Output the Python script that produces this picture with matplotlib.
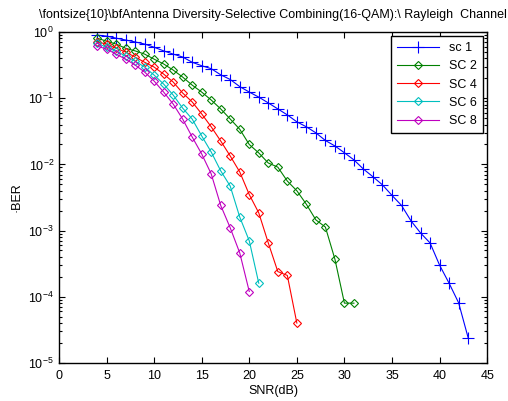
import matplotlib
matplotlib.use('Agg')
import matplotlib.pyplot as plt
from matplotlib.ticker import LogLocator, NullFormatter, MultipleLocator

plt.rcParams['font.family'] = ['Liberation Sans', 'DejaVu Sans']
plt.rcParams['mathtext.default'] = 'regular'

# SNR (dB) grids for each curve
snr_sc1 = list(range(4, 44))
snr_sc2 = list(range(4, 32))
snr_sc4 = list(range(4, 26))
snr_sc6 = list(range(4, 22))
snr_sc8 = list(range(4, 21))

# BER values
ber_sc1 = [0.90, 0.87, 0.81, 0.76, 0.71, 0.66, 0.59, 0.52, 0.465, 0.42,
           0.35, 0.31, 0.28, 0.226, 0.192, 0.150, 0.124, 0.104, 0.085, 0.069,
           0.056, 0.044, 0.037, 0.030, 0.023, 0.019, 0.015, 0.0117, 0.0085, 0.0065,
           0.0049, 0.0034, 0.0024, 0.0014, 0.00092, 0.00065, 0.00030, 0.00016, 0.000081, 0.000024]
ber_sc2 = [0.81, 0.73, 0.66, 0.57, 0.52, 0.465, 0.39, 0.33, 0.267, 0.209,
           0.158, 0.124, 0.094, 0.069, 0.0485, 0.034, 0.020, 0.0149, 0.0105, 0.0091,
           0.0056, 0.0040, 0.0025, 0.00145, 0.00113, 0.00037, 0.00008, 0.00008]
ber_sc4 = [0.71, 0.66, 0.57, 0.50, 0.42, 0.35, 0.296, 0.232, 0.176, 0.120,
           0.088, 0.058, 0.037, 0.0226, 0.0134, 0.0077, 0.0035, 0.00185, 0.00065, 0.00024,
           0.00021, 0.00004]
ber_sc6 = [0.68, 0.59, 0.52, 0.434, 0.365, 0.296, 0.224, 0.164, 0.112, 0.071,
           0.0485, 0.027, 0.0154, 0.0080, 0.0047, 0.0016, 0.00070, 0.00016]
ber_sc8 = [0.615, 0.554, 0.465, 0.391, 0.318, 0.249, 0.182, 0.124, 0.082, 0.0485,
           0.026, 0.0144, 0.0072, 0.0024, 0.0011, 0.00046, 0.00012]

labels = ['sc 1', 'SC 2', 'SC 4', 'SC 6', 'SC 8']
colors = ['#0000ff', '#008000', '#ff0000', '#00bfbf', '#bf00bf']

fig = plt.figure(figsize=(5.08, 4.01), dpi=100)
ax = fig.add_axes([0.116, 0.095, 0.843, 0.825])

ax.semilogy(snr_sc1, ber_sc1, '-+', color=colors[0], lw=0.8, ms=8, mew=0.8, label=labels[0])
ax.semilogy(snr_sc2, ber_sc2, '-D', color=colors[1], lw=0.8, ms=4.5, mew=0.8, mfc='none', label=labels[1])
ax.semilogy(snr_sc4, ber_sc4, '-D', color=colors[2], lw=0.8, ms=4.5, mew=0.8, mfc='none', label=labels[2])
ax.semilogy(snr_sc6, ber_sc6, '-D', color=colors[3], lw=0.8, ms=4.5, mew=0.8, mfc='none', label=labels[3])
ax.semilogy(snr_sc8, ber_sc8, '-D', color=colors[4], lw=0.8, ms=4.5, mew=0.8, mfc='none', label=labels[4])

ax.set_xlim(0, 45)
ax.set_ylim(1e-5, 1)
ax.xaxis.set_major_locator(MultipleLocator(5))
ax.yaxis.set_major_locator(LogLocator(base=10, numticks=10))
ax.yaxis.set_minor_locator(LogLocator(base=10, subs=range(2, 10), numticks=10))
ax.yaxis.set_minor_formatter(NullFormatter())
ax.tick_params(which='both', direction='in', top=True, right=True, labelsize=9,
               width=0.8, colors='black')
ax.tick_params(axis='x', which='major', pad=5)
ax.tick_params(which='major', length=4)
ax.tick_params(which='minor', length=2.5)
for s in ax.spines.values():
    s.set_linewidth(1.0)

ax.set_xlabel('SNR(dB)', fontsize=9, labelpad=2)
ax.set_ylabel('\u00b7BER', fontsize=9, labelpad=4)
ax.set_title('\\fontsize{10}\\bfAntenna Diversity-Selective Combining(16-QAM):\\ Rayleigh  Channel',
             fontsize=9, pad=10)

leg = ax.legend(loc='upper right', fontsize=9, fancybox=False, framealpha=1,
                edgecolor='black', borderpad=0.45, handlelength=3.4, labelspacing=0.5,
                borderaxespad=0.35)
leg.get_frame().set_linewidth(1.0)

fig.savefig('out.png', dpi=100)
